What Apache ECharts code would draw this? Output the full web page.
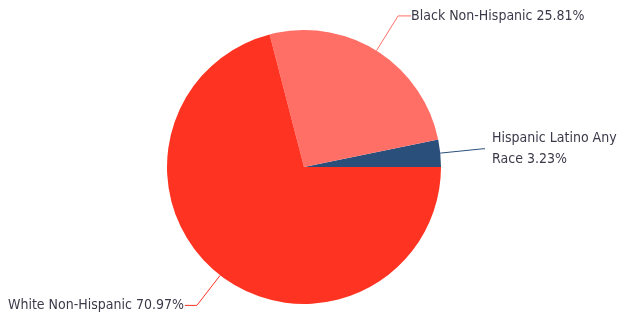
<!DOCTYPE html>
<html>
<head>
<meta charset="utf-8">
<script src="https://cdn.jsdelivr.net/npm/echarts@6/dist/echarts.min.js"></script>
<style>
  html, body { margin: 0; padding: 0; background: #ffffff; }
  #chart { width: 624px; height: 324px; }
</style>
</head>
<body>
<div id="chart"></div>
<script>
// Population share by race / ethnicity (percent)
const categories = ['Hispanic Latino Any Race', 'Black Non-Hispanic', 'White Non-Hispanic'];
const shares = [3.23, 25.81, 70.97];
const colors = ['#2b4f7b', '#ff6f66', '#ff3322'];

// connector geometry per slice: [length, length2, gap to text]
const connectors = [[43, 2, 7], [41, 13, 0], [38, 12, 1]];

const chart = echarts.init(document.getElementById('chart'), null, { renderer: 'canvas' });

const data = categories.map((name, i) => ({
  name: name,
  value: shares[i],
  itemStyle: { color: colors[i] },
  label: i === 0 ? { width: 140, overflow: 'break', distanceToLabelLine: connectors[i][2] }
                 : { distanceToLabelLine: connectors[i][2] },
  labelLine: {
    length: connectors[i][0],
    length2: connectors[i][1],
    lineStyle: { color: i === 0 ? '#2b4f7b' : colors[i] }
  }
}));

chart.setOption({
  animation: false,
  series: [{
    type: 'pie',
    center: [304, 167],
    radius: [0, 137],
    startAngle: 0,
    clockwise: false,
    avoidLabelOverlap: false,
    data: data,
    label: {
      show: true,
      formatter: '{b} {c}%',
      fontFamily: 'DejaVu Sans Condensed',
      fontSize: 14,
      lineHeight: 21,
      color: '#3a3a4a'
    },
    labelLine: { show: true, smooth: false, lineStyle: { width: 1 } },
    itemStyle: { borderWidth: 0 },
    emphasis: { disabled: true }
  }]
});
</script>
</body>
</html>
